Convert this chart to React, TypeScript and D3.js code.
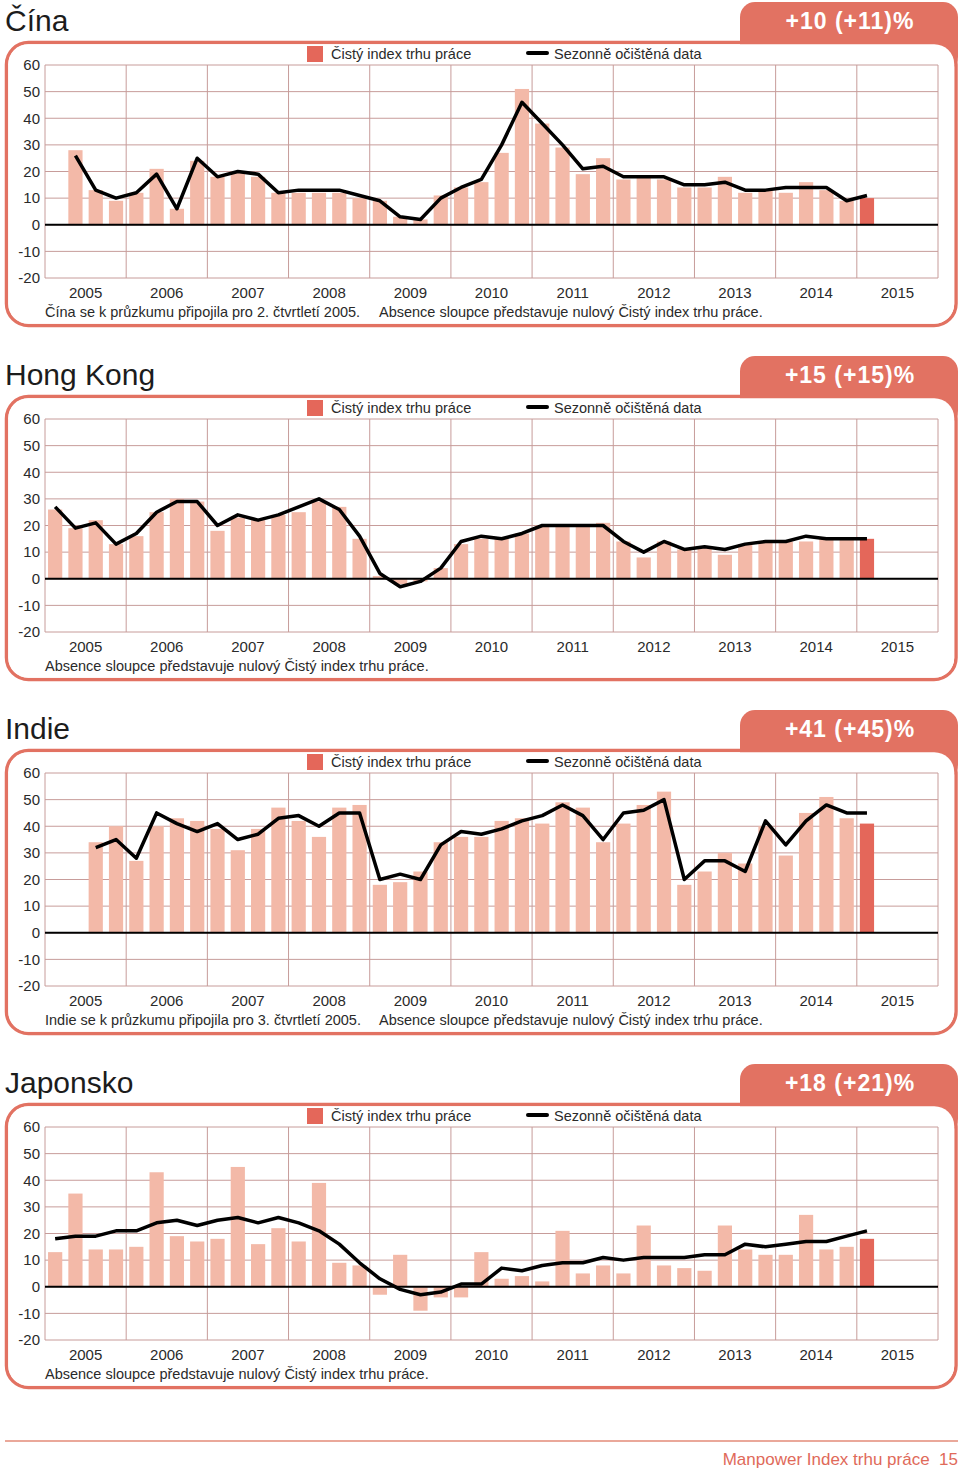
import React from "react";
import * as d3 from "d3";

const YEARS = ["2005", "2006", "2007", "2008", "2009", "2010", "2011", "2012", "2013", "2014", "2015"];
const QUARTER_NAMES = ["Q1", "Q2", "Q3", "Q4"];
const SLOTS = YEARS.flatMap((y) => QUARTER_NAMES.map((q) => `${y} ${q}`));
const Y_TICKS = [-20, -10, 0, 10, 20, 30, 40, 50, 60];

const CHINA_NET = [null, 28, 13, 9, 12, 21, 6, 24, 18, 20, 18, 12, 12, 12, 12, 10, 9, 3, 2, 11, 14, 16, 27, 51, 38, 29, 19, 25, 17, 18, 17, 14, 14, 18, 12, 13, 12, 16, 13, 9, 10];
const CHINA_SA = [null, 26, 13, 10, 12, 19, 6, 25, 18, 20, 19, 12, 13, 13, 13, 11, 9, 3, 2, 10, 14, 17, 30, 46, 38, 30, 21, 22, 18, 18, 18, 15, 15, 16, 13, 13, 14, 14, 14, 9, 11];

const HK_NET = [26, 19, 22, 13, 16, 25, 30, 29, 18, 23, 22, 24, 25, 29, 27, 15, 1, -2, -1, 4, 13, 15, 15, 17, 20, 20, 20, 21, 14, 8, 14, 11, 12, 9, 13, 14, 14, 14, 15, 15, 15];
const HK_SA = [27, 19, 21, 13, 17, 25, 29, 29, 20, 24, 22, 24, 27, 30, 26, 16, 2, -3, -1, 4, 14, 16, 15, 17, 20, 20, 20, 20, 14, 10, 14, 11, 12, 11, 13, 14, 14, 16, 15, 15, 15];

const INDIA_NET = [null, null, 34, 40, 27, 40, 43, 42, 39, 31, 39, 47, 42, 36, 47, 48, 18, 19, 23, 34, 36, 36, 42, 43, 41, 49, 47, 34, 41, 48, 53, 18, 23, 30, 26, 40, 29, 45, 51, 43, 41];
const INDIA_SA = [null, null, 32, 35, 28, 45, 41, 38, 41, 35, 37, 43, 44, 40, 45, 45, 20, 22, 20, 33, 38, 37, 39, 42, 44, 48, 44, 35, 45, 46, 50, 20, 27, 27, 23, 42, 33, 42, 48, 45, 45];

const JAPAN_NET = [13, 35, 14, 14, 15, 43, 19, 17, 18, 45, 16, 22, 17, 39, 9, 8, -3, 12, -9, -4, -4, 13, 3, 4, 2, 21, 5, 8, 5, 23, 8, 7, 6, 23, 14, 12, 12, 27, 14, 15, 18];
const JAPAN_SA = [18, 19, 19, 21, 21, 24, 25, 23, 25, 26, 24, 26, 24, 21, 16, 9, 3, -1, -3, -2, 1, 1, 7, 6, 8, 9, 9, 11, 10, 11, 11, 11, 12, 12, 16, 15, 16, 17, 17, 19, 21];

const TITLES = ["Čína", "Hong Kong", "Indie", "Japonsko"];
const BADGES = ["+10 (+11)%", "+15 (+15)%", "+41 (+45)%", "+18 (+21)%"];
const ABSENCE_NOTE = "Absence sloupce představuje nulový Čistý index trhu práce.";
const NOTES = [
  ["Čína se k průzkumu připojila pro 2. čtvrtletí 2005.", ABSENCE_NOTE],
  [ABSENCE_NOTE],
  ["Indie se k průzkumu připojila pro 3. čtvrtletí 2005.", ABSENCE_NOTE],
  [ABSENCE_NOTE],
];
const LEGEND_BAR = "Čistý index trhu práce";
const LEGEND_LINE = "Sezonně očištěná data";
const FOOTER = "Manpower Index trhu práce  15";

const NET_SERIES = [CHINA_NET, HK_NET, INDIA_NET, JAPAN_NET];
const SA_SERIES = [CHINA_SA, HK_SA, INDIA_SA, JAPAN_SA];

const FONT = "'Liberation Sans', Arial, Helvetica, sans-serif";
const PALE = "#f3b9a8";
const DARK = "#e4675a";
const BORDER = "#e27262";
const GRID = "#c79c9a";
const TEXT = "#2a2a2a";

const W = 960;
const H = 1469;
const PANEL_STEP = 354;
const PLOT_LEFT = 45;
const PLOT_RIGHT = 938;

function Panel({ idx }: { idx: number }) {
  const dy = idx * PANEL_STEP;
  const net = NET_SERIES[idx];
  const sa = SA_SERIES[idx];
  const x = d3
    .scaleBand<string>()
    .domain(SLOTS)
    .range([PLOT_LEFT, PLOT_RIGHT])
    .paddingInner(0.3)
    .paddingOuter(0.15);
  const xYear = d3.scaleBand<string>().domain(YEARS).range([PLOT_LEFT, PLOT_RIGHT]);
  const y = d3.scaleLinear().domain([-20, 60]).range([278 + dy, 65 + dy]);
  const bw = x.bandwidth();
  const line = d3
    .line<number | null>()
    .defined((v) => v !== null)
    .x((_, i) => (x(SLOTS[i]) as number) + bw / 2)
    .y((v) => y(v as number));
  const lastIdx = net.length - 1;

  return (
    <g>
      {/* title */}
      <text x={5} y={31 + dy} fontSize={30} fill="#1c1c1c" fontFamily={FONT}>
        {TITLES[idx]}
      </text>
      {/* panel frame */}
      <rect x={6.5} y={42.5 + dy} width={949.5} height={283} rx={22} ry={22} fill="#fff" stroke={BORDER} strokeWidth={3.5} />
      <rect x={740} y={2 + dy} width={218} height={70} rx={15} ry={15} fill={BORDER} />
      <rect x={8.25} y={44.25 + dy} width={946} height={279.5} rx={20} ry={20} fill="#fff" />
      <text
        x={850}
        y={29 + dy}
        fontSize={23}
        fontWeight="bold"
        fill="#fff"
        textAnchor="middle"
        fontFamily={FONT}
        letterSpacing={1}
      >
        {BADGES[idx]}
      </text>
      {/* legend */}
      <rect x={307} y={46 + dy} width={16} height={16} fill={DARK} />
      <text x={331} y={59 + dy} fontSize={14.5} fill={TEXT} fontFamily={FONT}>
        {LEGEND_BAR}
      </text>
      <line x1={528} x2={547} y1={53 + dy} y2={53 + dy} stroke="#000" strokeWidth={4} strokeLinecap="round" />
      <text x={554} y={59 + dy} fontSize={14.5} fill={TEXT} fontFamily={FONT}>
        {LEGEND_LINE}
      </text>
      {/* grid */}
      {Y_TICKS.map((t) => (
        <g key={t}>
          <line x1={PLOT_LEFT} x2={PLOT_RIGHT} y1={y(t)} y2={y(t)} stroke={GRID} strokeWidth={1} />
          <text
            x={40}
            y={y(t)}
            dy="0.35em"
            fontSize={15}
            textAnchor="end"
            fill={TEXT}
            fontFamily={FONT}
          >
            {t}
          </text>
        </g>
      ))}
      {YEARS.map((yr) => (
        <line
          key={"v" + yr}
          x1={xYear(yr) as number}
          x2={xYear(yr) as number}
          y1={y(60)}
          y2={y(-20)}
          stroke={GRID}
          strokeWidth={1}
        />
      ))}
      <line x1={PLOT_RIGHT} x2={PLOT_RIGHT} y1={y(60)} y2={y(-20)} stroke={GRID} strokeWidth={1} />
      {/* bars */}
      {net.map((v, i) =>
        v === null || v === 0 ? null : (
          <rect
            key={"b" + i}
            x={x(SLOTS[i]) as number}
            width={bw}
            y={Math.min(y(v), y(0))}
            height={Math.abs(y(v) - y(0))}
            fill={i === lastIdx ? DARK : PALE}
          />
        )
      )}
      {/* zero line */}
      <line x1={PLOT_LEFT} x2={PLOT_RIGHT} y1={y(0)} y2={y(0)} stroke="#000" strokeWidth={2} />
      {/* seasonally adjusted line */}
      <path d={line(sa) || ""} fill="none" stroke="#000" strokeWidth={3.5} strokeLinejoin="round" />
      {/* year labels */}
      {YEARS.map((yr) => (
        <text
          key={"y" + yr}
          x={(xYear(yr) as number) + xYear.bandwidth() / 2}
          y={298 + dy}
          fontSize={15}
          textAnchor="middle"
          fill={TEXT}
          fontFamily={FONT}
        >
          {yr}
        </text>
      ))}
      {/* notes */}
      {NOTES[idx].map((n, k) => (
        <text key={"n" + k} x={k === 0 ? 45 : 379} y={317 + dy} fontSize={14.5} fill={TEXT} fontFamily={FONT}>
          {n}
        </text>
      ))}
    </g>
  );
}

export default function App() {
  return (
    <svg
      width={W}
      height={H}
      viewBox={`0 0 ${W} ${H}`}
      style={{ position: "absolute", left: 0, top: 0, display: "block", background: "#fff" }}
    >
      <rect x={0} y={0} width={W} height={H} fill="#fff" />
      {TITLES.map((_, i) => (
        <Panel key={i} idx={i} />
      ))}
      <line x1={5} x2={958} y1={1441} y2={1441} stroke="#eaa89a" strokeWidth={2} />
      <text x={958} y={1465} fontSize={17} textAnchor="end" fill="#e06a5a" fontFamily={FONT} xmlSpace="preserve">
        {FOOTER}
      </text>
    </svg>
  );
}
